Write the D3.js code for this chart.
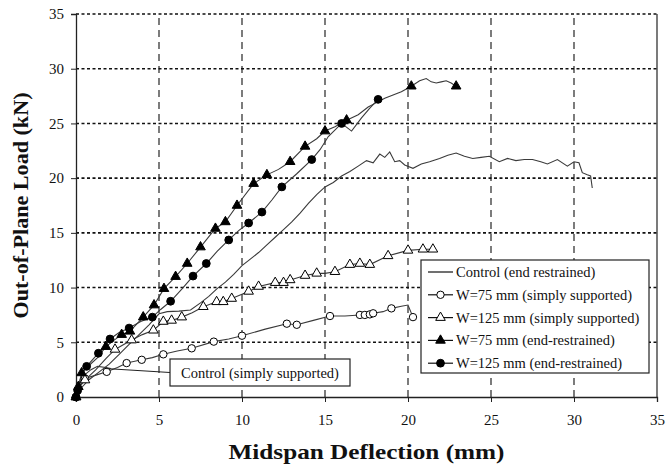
<!DOCTYPE html>
<html><head><meta charset="utf-8">
<script src="https://cdn.jsdelivr.net/npm/d3@7"></script>
<style>body{margin:0;background:#fff}svg{display:block}</style>
</head><body><svg id="c" width="666" height="469"></svg>
<script>
const xTicks = [0,5,10,15,20,25,30,35];
const yTicks = [0,5,10,15,20,25,30,35];
const xTitle = "Midspan Deflection (mm)";
const yTitle = "Out-of-Plane Load (kN)";
const seriesNames = ["Control (end restrained)","W=75 mm (simply supported)","W=125 mm (simply supported)","W=75 mm (end-restrained)","W=125 mm (end-restrained)"];
const annotationText = "Control (simply supported)";
const annotationTarget = [1.8, 2.6];

// Control (end restrained) - line only
const ctrlErX = [0,0.3,0.8,1.4,2.0,2.6,3.2,3.8,4.4,5.0,5.5,6.2,6.9,7.5,8.0,8.5,9.0,9.5,10.0,10.5,11.0,11.5,12.0,12.5,13.0,13.5,14.0,14.5,15.0,15.5,16.0,16.5,17.0,17.5,17.9,18.3,18.6,18.9,19.2,19.5,19.8,20.3,20.8,21.3,21.9,22.4,22.9,23.4,23.9,24.4,24.9,25.5,26.0,26.5,27.0,27.5,28.0,28.4,29.0,29.6,30.0,30.3,30.5,30.8,31.0,31.1];
const ctrlErY = [0,0.8,1.6,2.3,3.0,3.9,4.8,5.7,6.6,7.6,7.8,7.85,7.95,8.6,9.2,9.9,10.5,11.2,12.0,12.6,13.2,13.9,14.6,15.3,16.0,16.8,17.7,18.5,19.2,19.6,20.2,20.6,21.1,21.6,21.4,22.2,21.9,22.4,21.5,21.6,21.2,20.9,21.3,21.5,21.8,22.1,22.3,22.0,21.8,21.9,22.0,21.5,21.8,21.6,21.7,21.7,21.5,21.3,21.7,21.1,21.5,21.4,20.5,20.3,20.2,19.1];

// Control (simply supported) - line only
const ctrlSsX = [0,0.2,0.5,0.9,1.3,1.8,2.1];
const ctrlSsY = [0,1.2,2.0,2.5,2.8,2.7,2.6];

// W=75 mm (simply supported) - open circles
const w75ssX = [0,0.2,0.54,1.2,1.85,2.5,3.05,3.96,4.6,5.26,6.1,6.97,8.3,9.2,10.0,11.4,12.7,13.3,14.3,15.3,16.2,17.1,17.4,17.7,17.9,18.5,19.0,19.6,20.0,20.3];
const w75ssY = [0,1.0,1.7,2.0,2.3,2.7,3.1,3.4,3.6,3.9,4.2,4.45,5.06,5.3,5.6,6.2,6.7,6.6,7.0,7.4,7.4,7.5,7.5,7.55,7.65,7.8,8.1,8.3,8.4,7.3];
const w75ssM = [1,0,1,0,1,0,1,1,0,1,0,1,1,0,1,0,1,1,0,1,0,1,1,1,1,0,1,0,0,1];

// W=125 mm (simply supported) - open triangles
const w125ssX = [0,0.2,0.54,1.2,1.8,2.35,3.35,4.0,4.66,5.26,5.76,6.37,7.0,7.67,8.47,8.87,9.38,10.4,11.0,12.0,12.5,12.9,13.8,14.5,15.0,15.6,16.5,17.1,17.7,18.8,20.0,20.9,21.5];
const w125ssY = [0,0.9,1.55,2.5,3.5,4.35,5.2,5.7,6.1,6.9,7.0,7.3,7.7,8.25,8.7,8.7,9.0,9.65,10.1,10.45,10.45,10.7,11.1,11.3,11.3,11.45,12.1,12.2,12.1,12.9,13.4,13.5,13.5];
const w125ssM = [1,0,1,0,0,1,1,0,1,1,1,1,0,1,1,1,1,1,1,1,1,1,1,1,0,1,1,1,1,1,1,1,1];

// W=75 mm (end-restrained) - filled triangles
const w75erX = [0,0.04,0.14,0.34,0.8,1.3,1.8,2.3,2.75,3.25,4.05,4.7,5.3,6.0,6.7,7.5,8.4,9.0,9.7,10.7,11.5,12.2,12.9,13.8,14.5,15.0,15.6,16.3,17.0,17.6,18.1,18.6,19.1,19.6,20.2,20.7,21.1,21.4,21.7,22.0,22.3,22.6,22.9];
const w75erY = [0,0.3,0.94,2.2,2.9,3.6,4.6,5.2,5.7,6.0,7.3,8.4,9.9,11.0,12.2,13.7,15.4,16.0,17.5,19.5,20.3,20.8,21.5,22.9,23.6,24.3,24.7,25.3,25.8,26.5,26.9,27.3,27.6,27.9,28.4,28.9,29.1,28.8,28.7,28.8,28.9,28.7,28.4];
const w75erM = [1,0,1,1,0,0,1,0,1,1,1,1,1,1,1,1,1,1,1,1,1,0,1,1,0,1,0,1,0,0,0,0,0,0,1,0,0,0,0,0,0,0,1];

// W=125 mm (end-restrained) - filled circles
const w125erX = [0,0.1,0.3,0.64,1.35,2.05,2.6,3.2,3.9,4.6,5.1,5.7,6.4,7.05,7.85,8.5,9.2,9.8,10.4,11.2,11.8,12.4,13.3,14.2,14.7,15.2,16.0,16.6,17.2,17.7,18.2];
const w125erY = [0,0.6,1.8,2.8,4.0,5.3,5.9,6.3,6.9,7.3,8.0,8.75,9.9,11.05,12.2,13.3,14.35,15.2,15.9,16.9,18.0,19.2,20.4,21.7,22.6,23.8,25.0,24.3,25.5,26.4,27.2];
const w125erM = [1,1,0,1,1,1,0,1,0,1,0,1,0,1,1,0,1,0,1,1,0,1,0,1,0,0,1,0,0,0,1];

const svg = d3.select("#c");
const W = 666, H = 469;
const m = {l:76, r:9, t:14, b:72};
const x = d3.scaleLinear().domain([0,35]).range([m.l, W-m.r]);
const y = d3.scaleLinear().domain([0,35]).range([H-m.b, m.t]);
const FONT = "'Liberation Serif','Times New Roman',serif";

// grid
const g = svg.append("g");
g.selectAll(".vg").data(xTicks.filter(d=>d>0&&d<35)).join("line")
  .attr("x1",d=>x(d)).attr("x2",d=>x(d)).attr("y1",y(0)).attr("y2",y(35))
  .attr("stroke","#111").attr("stroke-width",1.1).attr("stroke-dasharray","7,5");
g.selectAll(".hg").data(yTicks.filter(d=>d>0)).join("line")
  .attr("x1",x(0)).attr("x2",x(35)).attr("y1",d=>y(d)).attr("y2",d=>y(d))
  .attr("stroke","#111").attr("stroke-width",1.6).attr("stroke-dasharray","3,2.5");
g.append("line").attr("x1",x(35)).attr("x2",x(35)).attr("y1",y(0)).attr("y2",y(35)).attr("stroke","#222").attr("stroke-width",1.2);

// axes
const xa = svg.append("g").attr("transform",`translate(0,${y(0)})`)
  .call(d3.axisBottom(x).tickValues(xTicks).tickSize(5).tickPadding(12));
const ya = svg.append("g").attr("transform",`translate(${x(0)},0)`)
  .call(d3.axisLeft(y).tickValues(yTicks).tickSize(5).tickPadding(7));
[xa,ya].forEach(a=>{
  a.select(".domain").attr("stroke","#222").attr("stroke-width",1.3);
  a.selectAll(".tick line").attr("stroke","#222");
  a.selectAll("text").attr("font-family",FONT).attr("font-size",15).attr("fill","#111");
});

svg.append("text").attr("x",(x(0)+x(35))/2).attr("y",459).attr("text-anchor","middle")
  .attr("font-family",FONT).attr("font-weight","bold").attr("font-size",22).attr("fill","#111")
  .attr("textLength",276).attr("lengthAdjust","spacingAndGlyphs").text(xTitle);
svg.append("text").attr("transform",`translate(28,${(y(0)+y(35))/2}) rotate(-90)`).attr("text-anchor","middle")
  .attr("font-family",FONT).attr("font-weight","bold").attr("font-size",21).attr("fill","#111")
  .attr("textLength",226).attr("lengthAdjust","spacingAndGlyphs").text(yTitle);

// lines
const line = d3.line().x(d=>x(d[0])).y(d=>y(d[1]));
const zip = (a,b)=>a.map((v,i)=>[v,b[i]]);
const lineColor = "#3a3a3a";
function drawLine(xs,ys){
  svg.append("path").datum(zip(xs,ys)).attr("d",line).attr("fill","none")
    .attr("stroke",lineColor).attr("stroke-width",1.1);
}
drawLine(ctrlSsX,ctrlSsY);
drawLine(ctrlErX,ctrlErY);
drawLine(w75ssX,w75ssY);
drawLine(w125ssX,w125ssY);
drawLine(w75erX,w75erY);
drawLine(w125erX,w125erY);

const tri = d3.symbol().type(d3.symbolTriangle).size(40);
function marker(sel, kind, filled){
  if(kind==="circle"){
    sel.append("circle").attr("r",filled?3.9:3.7).attr("fill",filled?"#000":"#fff").attr("stroke","#000").attr("stroke-width",1);
  } else {
    sel.append("path").attr("d",tri).attr("fill",filled?"#000":"#fff").attr("stroke","#000").attr("stroke-width",1);
  }
}
function drawMarks(xs,ys,ms,kind,filled){
  zip(xs,ys).forEach((p,i)=>{
    if(!ms[i]) return;
    const s = svg.append("g").attr("transform",`translate(${x(p[0])},${y(p[1])})`);
    marker(s,kind,filled);
  });
}
drawMarks(w75ssX,w75ssY,w75ssM,"circle",false);
drawMarks(w125ssX,w125ssY,w125ssM,"triangle",false);
drawMarks(w75erX,w75erY,w75erM,"triangle",true);
drawMarks(w125erX,w125erY,w125erM,"circle",true);

// annotation
const ab = {x:170,y:359,w:180,h:27};
svg.append("line").attr("x1",ab.x).attr("y1",ab.y+ab.h/2).attr("x2",x(annotationTarget[0])).attr("y2",y(annotationTarget[1]))
  .attr("stroke","#222").attr("stroke-width",1);
svg.append("rect").attr("x",ab.x).attr("y",ab.y).attr("width",ab.w).attr("height",ab.h)
  .attr("fill","#fff").attr("stroke","#222").attr("stroke-width",1.2);
svg.append("text").attr("x",ab.x+ab.w/2).attr("y",ab.y+ab.h/2).attr("dy","0.35em").attr("text-anchor","middle")
  .attr("font-family",FONT).attr("font-size",14.5).attr("fill","#111").text(annotationText);

// legend
const lg = svg.append("g");
lg.append("rect").attr("x",421).attr("y",260).attr("width",228).attr("height",113)
  .attr("fill","#fff").attr("stroke","#222").attr("stroke-width",1.2);
const legKinds = [[null,false],["circle",false],["triangle",false],["triangle",true],["circle",true]];
seriesNames.forEach((n,i)=>{
  const cy = 272 + i*22.8;
  lg.append("line").attr("x1",428).attr("x2",453).attr("y1",cy).attr("y2",cy).attr("stroke","#111").attr("stroke-width",1.2);
  if(legKinds[i][0]){
    const s = lg.append("g").attr("transform",`translate(440.5,${cy})`);
    marker(s,legKinds[i][0],legKinds[i][1]);
  }
  lg.append("text").attr("x",456).attr("y",cy).attr("dy","0.35em")
    .attr("font-family",FONT).attr("font-size",14.5).attr("fill","#111").text(n);
});
</script></body></html>
